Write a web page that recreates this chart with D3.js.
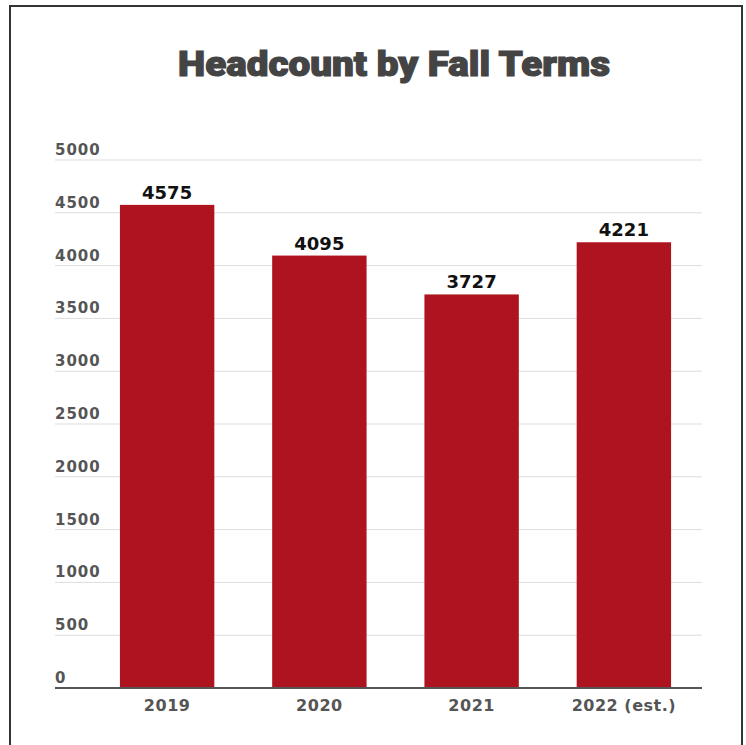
<!DOCTYPE html>
<html>
<head>
<meta charset="utf-8">
<script src="https://d3js.org/d3.v7.min.js"></script>
<style>
  body { margin: 0; background: #fff; }
  svg { display: block; }
</style>
</head>
<body>
<div class="wrapper"></div>
<script>
// chart data
var terms = ["2019", "2020", "2021", "2022 (est.)"];
var headcount = [4575, 4095, 3727, 4221];
var yTicks = [0, 500, 1000, 1500, 2000, 2500, 3000, 3500, 4000, 4500, 5000];

var width = 746, height = 745;
var labelFont = "'DejaVu Sans', sans-serif";

var svg = d3.select(".wrapper")
  .append("svg")
  .attr("width", width)
  .attr("height", height);

// outer frame
svg.append("rect")
  .attr("x", 10).attr("y", 6)
  .attr("width", 732).attr("height", 760)
  .style("fill", "none")
  .style("stroke", "#333")
  .style("stroke-width", 2);

// title
svg.append("text")
  .attr("x", 178)
  .attr("y", 76)
  .attr("textLength", 432)
  .attr("lengthAdjust", "spacingAndGlyphs")
  .style("font-family", "Roboto, 'Noto Sans', sans-serif")
  .style("font-weight", 900)
  .style("font-size", "35px")
  .style("fill", "#444")
  .style("stroke", "#444")
  .style("stroke-width", 1.2)
  .text("Headcount by Fall Terms");

// scales
var x = d3.scaleBand()
  .domain(terms)
  .range([91, 700])
  .paddingInner(0.38)
  .paddingOuter(0.19);

var y = d3.scaleLinear()
  .domain([0, 5000])
  .range([688, 160]);

// gridlines + tick labels
var grid = svg.append("g")
  .selectAll("g")
  .data(yTicks)
  .enter()
  .append("g")
  .attr("transform", function(d) { return "translate(0," + y(d) + ")"; });

grid.filter(function(d) { return d > 0; })
  .append("line")
  .attr("x1", 55).attr("x2", 702)
  .style("stroke", "#ddd")
  .style("stroke-width", 1);

grid.append("text")
  .attr("x", 55)
  .attr("y", -5)
  .style("font-family", labelFont)
  .style("font-weight", 700)
  .style("font-size", "15px")
  .style("letter-spacing", "1px")
  .style("fill", "#555")
  .text(function(d) { return d; });

// bars
svg.selectAll(".bar")
  .data(headcount)
  .enter()
  .append("rect")
  .attr("class", "bar")
  .attr("x", function(d, i) { return x(terms[i]); })
  .attr("y", function(d) { return y(d); })
  .attr("width", x.bandwidth())
  .attr("height", function(d) { return y(0) - y(d); })
  .style("fill", "#ae141f");

// value labels
svg.selectAll(".val")
  .data(headcount)
  .enter()
  .append("text")
  .attr("class", "val")
  .attr("x", function(d, i) { return x(terms[i]) + x.bandwidth() / 2; })
  .attr("y", function(d) { return y(d) - 6; })
  .style("text-anchor", "middle")
  .style("font-family", labelFont)
  .style("font-weight", 700)
  .style("font-size", "18px")
  .style("fill", "#111")
  .text(function(d) { return d; });

// x axis baseline
var xAxis = svg.append("g")
  .attr("transform", "translate(0," + y(0) + ")")
  .call(d3.axisBottom(x).tickSize(0).tickPadding(12));
xAxis.select(".domain").remove();
xAxis.append("line")
  .attr("x1", 55).attr("x2", 702)
  .style("stroke", "#555")
  .style("stroke-width", 2);
xAxis.selectAll(".tick text")
  .style("font-family", labelFont)
  .style("font-weight", 700)
  .style("font-size", "16px")
  .style("letter-spacing", "0.5px")
  .style("fill", "#555");
</script>
</body>
</html>
